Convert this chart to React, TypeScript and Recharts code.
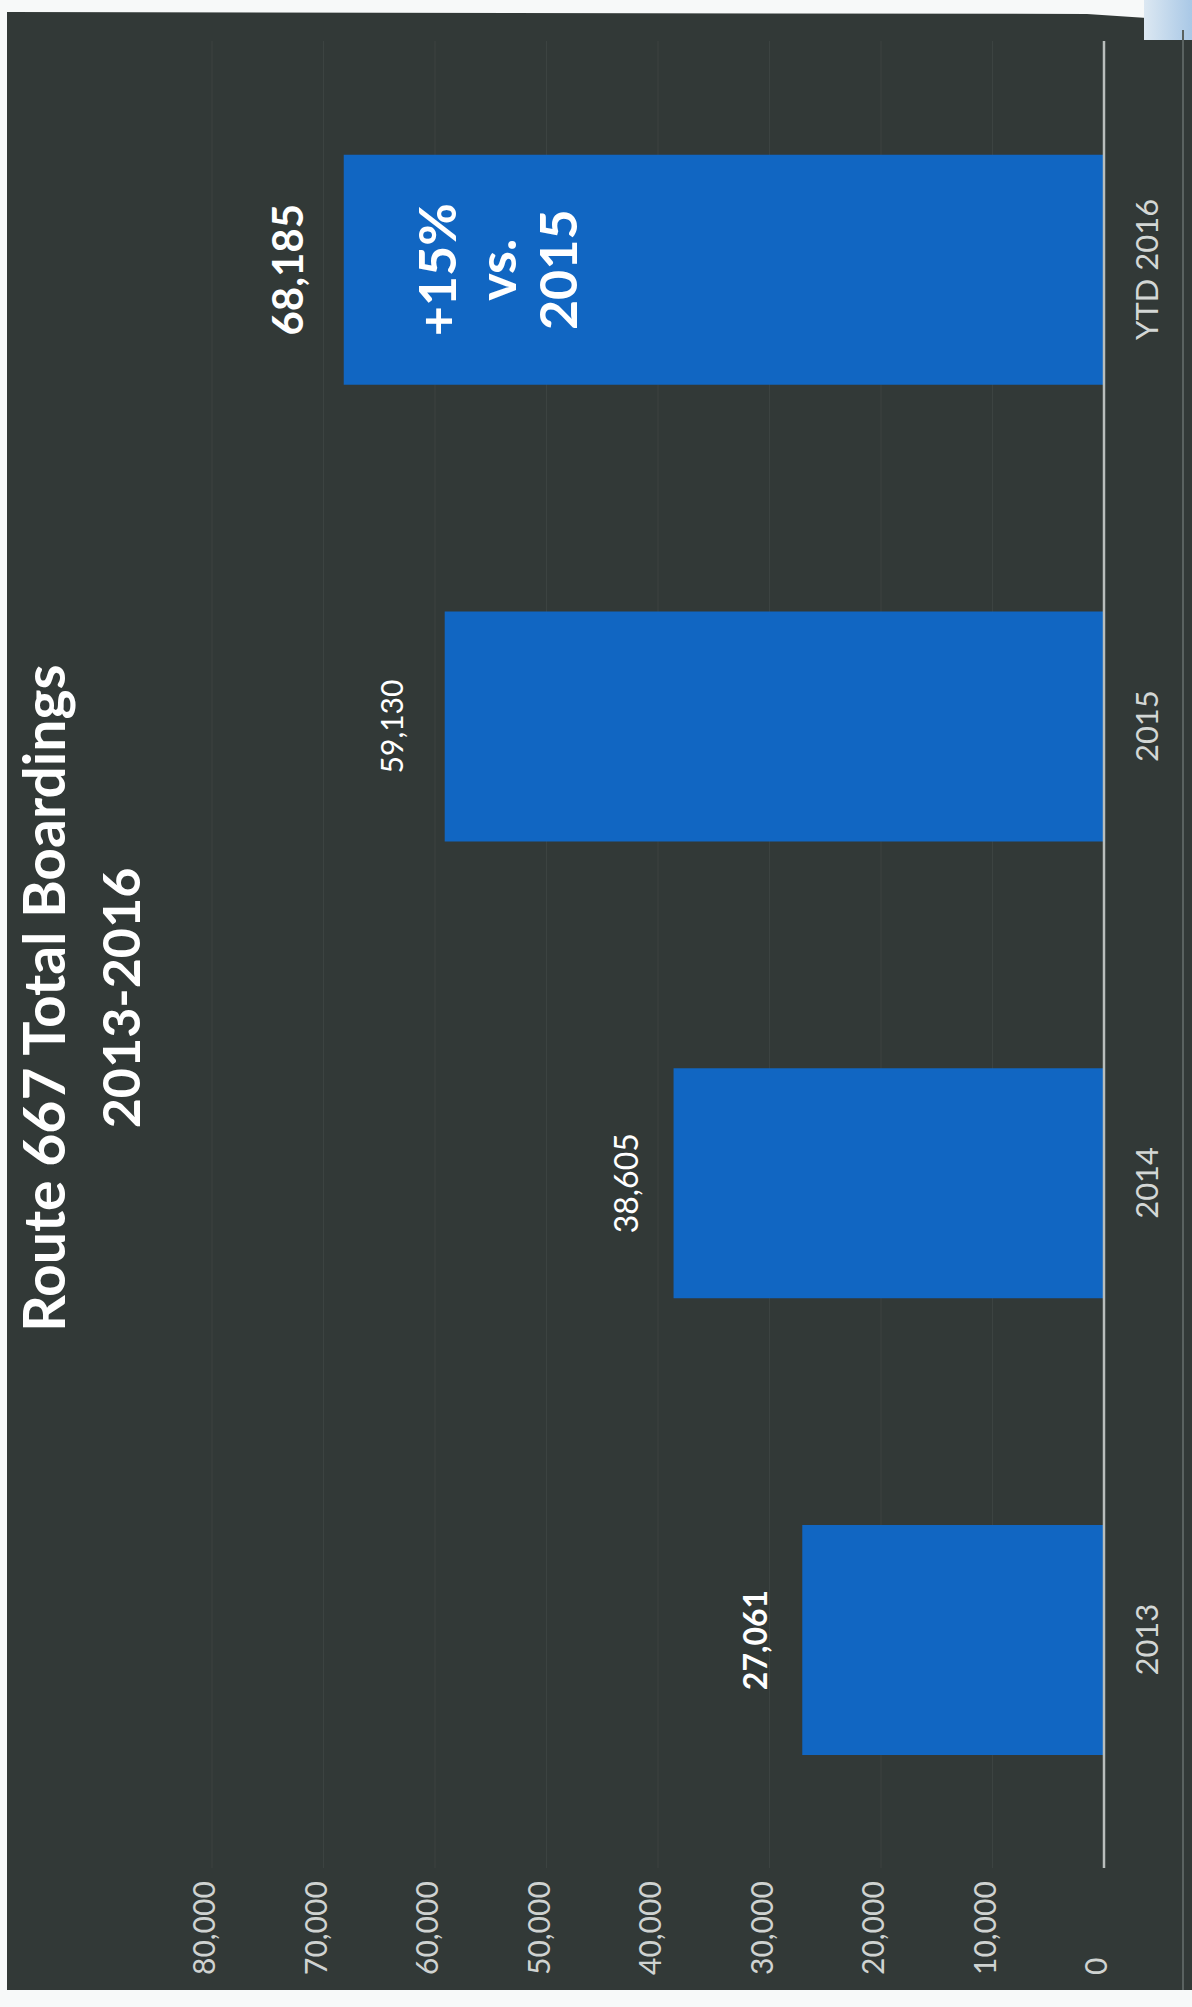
import React from "react";
import { Bar, BarChart, CartesianGrid, LabelList, XAxis, YAxis } from "recharts";

const categories = ["2013", "2014", "2015", "YTD 2016"];
const boardings = [27061, 38605, 59130, 68185];
const valueTicks = [0, 10000, 20000, 30000, 40000, 50000, 60000, 70000, 80000];
const titleLines = ["Route 667 Total Boardings", "2013-2016"];
const calloutLines = ["+15%", "vs.", "2015"];

const PAGE_W = 1192;
const PAGE_H = 2007;
const FONT = "Lato, 'Noto Sans', sans-serif";
const BG = "#323937";
const BAR = "#1166c2";

// per-year label look (the scan mixes bold/regular sizes)
const labelLook: Record<string, { size: number; weight: number; gap: number }> = {
  "2013": { size: 32, weight: 700, gap: 35 },
  "2014": { size: 32, weight: 400, gap: 36 },
  "2015": { size: 30, weight: 400, gap: 42 },
  "YTD 2016": { size: 42, weight: 700, gap: 41 },
};

const data = categories.map((year, i) => ({ year, boardings: boardings[i] }));

const fmt = (v: number) => v.toLocaleString("en-US");

function CategoryTick({ x, y, payload }: any) {
  return (
    <text x={x} y={y} dy={54} textAnchor="middle" fill="#d3d7d5" fontSize={31} fontFamily={FONT}>
      {payload.value}
    </text>
  );
}

function ValueTick({ x, y, payload }: any) {
  return (
    <text x={x - 107} y={y} dy={3} textAnchor="start" fill="#cfd3d1" fontSize={30} fontFamily={FONT}>
      {fmt(payload.value)}
    </text>
  );
}

function valueLabel(props: any) {
  const { x, y, width, value, index } = props;
  const look = labelLook[categories[index]];
  return (
    <text
      x={x + width / 2}
      y={y - look.gap}
      textAnchor="middle"
      fill="#ffffff"
      fontSize={look.size}
      fontWeight={look.weight}
      fontFamily={FONT}
    >
      {fmt(value)}
    </text>
  );
}

function callout(props: any) {
  const { x, y, width, index } = props;
  if (index !== categories.length - 1) return null;
  const offsets = [112, 172, 233];
  return (
    <g>
      {calloutLines.map((t, i) => (
        <text
          key={t}
          x={x + width / 2}
          y={y + offsets[i]}
          textAnchor="middle"
          fill="#ffffff"
          fontSize={52}
          fontWeight={700}
          fontFamily={FONT}
        >
          {t}
        </text>
      ))}
    </g>
  );
}

export default function App() {
  return (
    <div
      style={{
        position: "absolute",
        left: 0,
        top: 0,
        width: PAGE_W,
        height: PAGE_H,
        background: "#f7f9f9",
        overflow: "hidden",
      }}
    >
      {/* dark slide area of the scan */}
      <div
        style={{
          position: "absolute",
          left: 7,
          top: 12,
          width: PAGE_W - 7,
          height: 1978,
          background: BG,
          clipPath: "polygon(0 0, 1080px 2px, 1185px 9px, 100% 100%, 0 100%)",
        }}
      />
      <div
        style={{
          position: "absolute",
          right: 0,
          top: 0,
          width: 48,
          height: 40,
          background: "linear-gradient(90deg, #dce8f2, #a9c8e6)",
        }}
      />
      <div style={{ position: "absolute", left: 1182, top: 30, width: 2, height: 1960, background: "#5a6260" }} />

      {/* chart drawn upright, then turned a quarter turn counter-clockwise like the scan */}
      <div
        style={{
          position: "absolute",
          left: 0,
          top: 0,
          width: PAGE_H,
          height: PAGE_W,
          transformOrigin: "0 0",
          transform: `translate(0px, ${PAGE_H}px) rotate(-90deg)`,
        }}
      >
        <svg width={PAGE_H} height={180} style={{ position: "absolute", left: 0, top: 0 }}>
          <text x={1009} y={65} textAnchor="middle" fill="#ffffff" fontSize={57} fontWeight={700} fontFamily={FONT}>
            {titleLines[0]}
          </text>
          <text x={1009} y={140} textAnchor="middle" fill="#ffffff" fontSize={52} fontWeight={700} fontFamily={FONT}>
            {titleLines[1]}
          </text>
        </svg>
        <div style={{ position: "absolute", left: 0, top: 0 }}>
          <BarChart
            width={PAGE_H}
            height={PAGE_W}
            data={data}
            margin={{ top: 212, right: 41, bottom: 28, left: 0 }}
            barSize={230}
          >
            <CartesianGrid vertical={false} stroke="#3c4341" strokeWidth={1} />
            <XAxis
              dataKey="year"
              height={60}
              interval={0}
              tickSize={0}
              tickMargin={0}
              tickLine={false}
              axisLine={{ stroke: "#b9bebc", strokeWidth: 2.5 }}
              tick={<CategoryTick />}
            />
            <YAxis
              width={139}
              domain={[0, 80000]}
              ticks={valueTicks}
              tickSize={0}
              tickMargin={0}
              axisLine={false}
              tickLine={false}
              tick={<ValueTick />}
            />
            <Bar dataKey="boardings" fill={BAR} isAnimationActive={false}>
              <LabelList dataKey="boardings" content={valueLabel} />
              <LabelList dataKey="boardings" content={callout} />
            </Bar>
          </BarChart>
        </div>
      </div>
    </div>
  );
}
